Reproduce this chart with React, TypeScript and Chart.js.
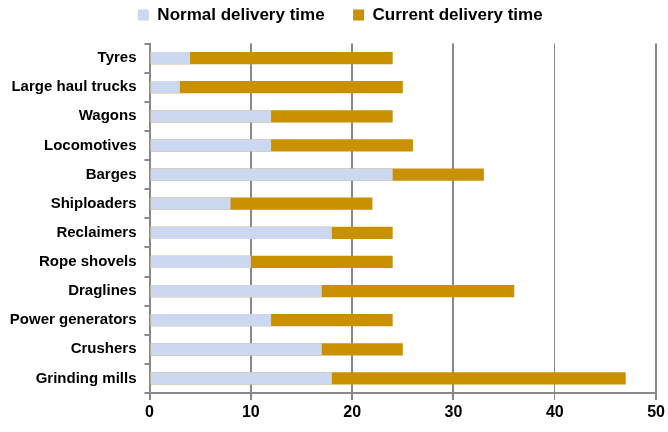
import React, { useEffect, useRef } from "react";
import { Chart, registerables } from "chart.js";

Chart.register(...registerables);

const categories = [
  "Tyres",
  "Large haul trucks",
  "Wagons",
  "Locomotives",
  "Barges",
  "Shiploaders",
  "Reclaimers",
  "Rope shovels",
  "Draglines",
  "Power generators",
  "Crushers",
  "Grinding mills",
];

const normalDelivery = [4, 3, 12, 12, 24, 8, 18, 10, 17, 12, 17, 18];
const currentDelivery = [24, 25, 24, 26, 33, 22, 24, 24, 36, 24, 25, 47];

const xTicks = [0, 10, 20, 30, 40, 50];

const legendSpacer = {
  id: "legendSpacer",
  beforeInit(chart: any) {
    const legend = chart.legend;
    if (!legend) return;
    const orig = legend.fit;
    legend.fit = function () {
      orig.call(this);
      this.height += 10;
    };
  },
};

const FONT = "'Liberation Sans', Arial, sans-serif";

export default function App() {
  const ref = useRef<HTMLCanvasElement | null>(null);

  useEffect(() => {
    document.body.style.margin = "0";
    if (!ref.current) return;
    const chart = new Chart(ref.current, {
      type: "bar",
      data: {
        labels: categories,
        datasets: [
          {
            label: "Normal delivery time",
            data: normalDelivery,
            backgroundColor: "#CCD8F0",
            borderWidth: 0,
            grouped: false,
            barPercentage: 0.42,
            categoryPercentage: 1,
          } as any,
          {
            label: "Current delivery time",
            data: currentDelivery,
            backgroundColor: "#C99000",
            borderWidth: 0,
            grouped: false,
            barPercentage: 0.42,
            categoryPercentage: 1,
          } as any,
        ],
      },
      options: {
        indexAxis: "y",
        responsive: false,
        animation: false,
        devicePixelRatio: 1,
        layout: { padding: { top: -22, left: 8, right: -4.5, bottom: 6.8 } },
        plugins: {
          tooltip: { enabled: false },
          legend: {
            position: "top",
            labels: {
              boxWidth: 11,
              boxHeight: 11,
              padding: 28.5,
              color: "#000",
              font: { family: FONT, size: 17, weight: "bold" },
            },
          },
        },
        scales: {
          x: {
            type: "linear",
            min: 0,
            max: 50,
            afterBuildTicks: (scale: any) => {
              scale.ticks = xTicks.map((v) => ({ value: v }));
            },
            ticks: {
              color: "#000",
              padding: 3,
              font: { family: FONT, size: 16, weight: "bold" },
            },
            grid: {
              color: "#888888",
              lineWidth: (ctx: any) => (ctx.tick && ctx.tick.value === 40 ? 1 : 2),
              tickLength: 7,
            },
            border: { color: "#888888", width: 2 },
          },
          y: {
            type: "category",
            afterFit: (scale: any) => {
              scale.width = 141.5;
            },
            ticks: {
              color: "#000",
              padding: 8,
              font: { family: FONT, size: 15, weight: "bold" },
            },
            grid: {
              offset: true,
              drawOnChartArea: false,
              color: "#888888",
              lineWidth: 2,
              tickLength: 5,
            },
            border: { color: "#888888", width: 2 },
          },
        },
      },
      plugins: [legendSpacer],
    } as any);
    return () => chart.destroy();
  }, []);

  return (
    <div style={{ width: 668, height: 432 }}>
      <canvas ref={ref} width={668} height={432} />
    </div>
  );
}
